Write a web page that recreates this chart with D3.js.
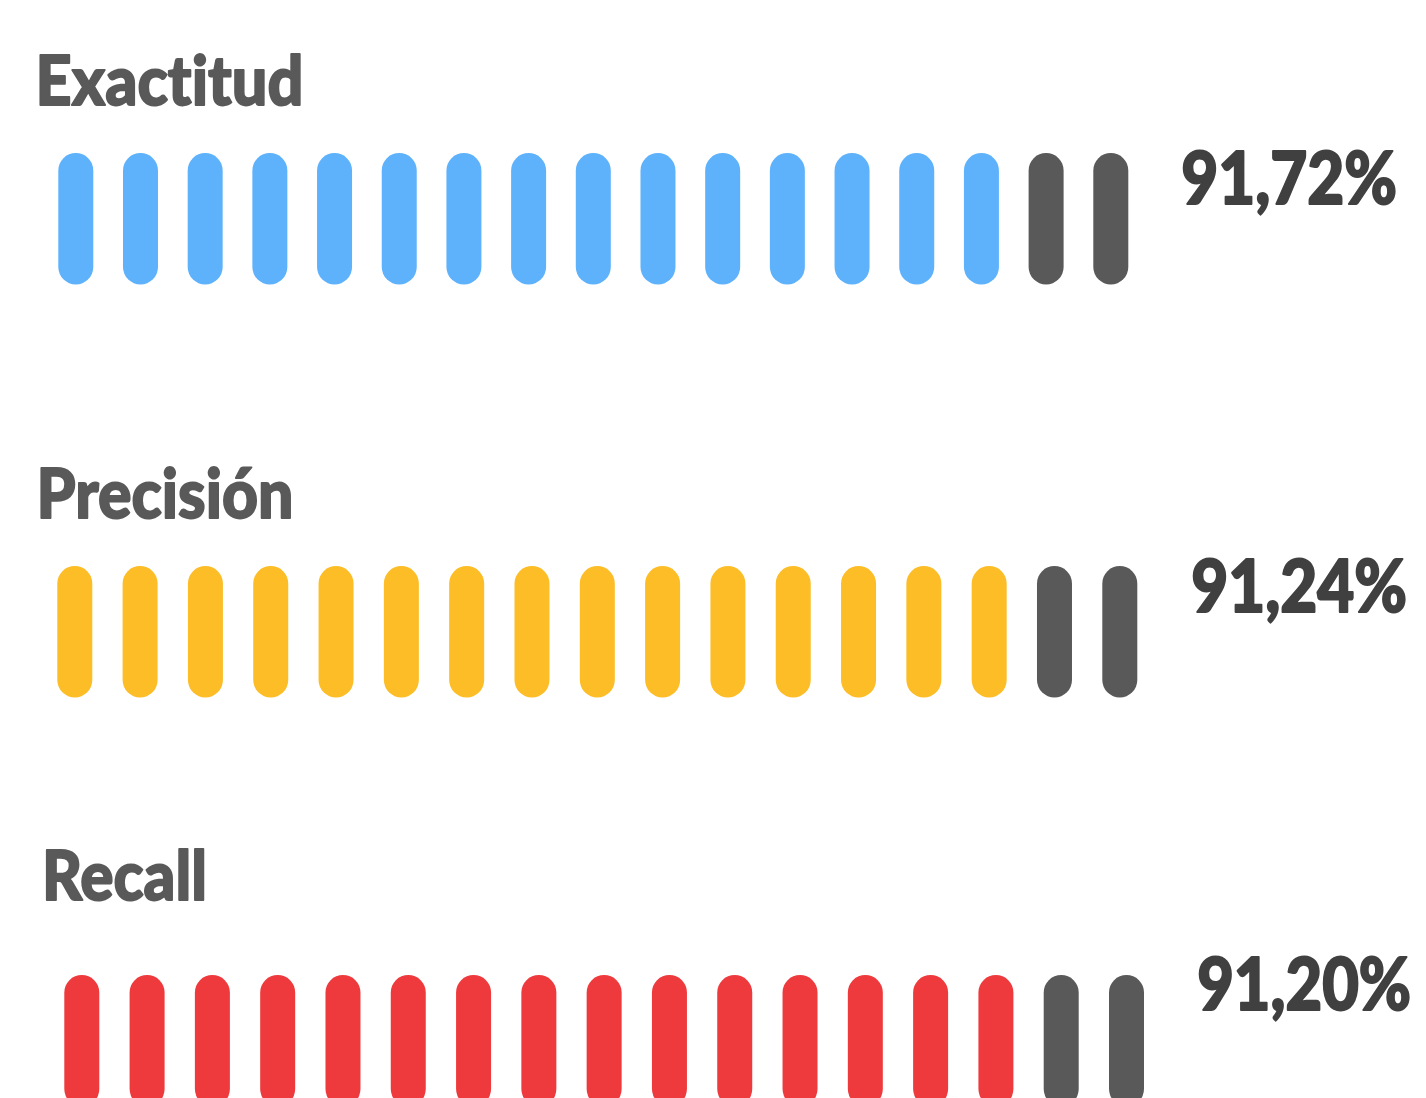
<!DOCTYPE html>
<html>
<head>
<meta charset="utf-8">
<script src="https://cdn.jsdelivr.net/npm/d3@7"></script>
<style>
  html, body { margin: 0; padding: 0; background: #ffffff; }
  svg { display: block; }
  text { font-family: Lato, "Open Sans", "Noto Sans", sans-serif; font-weight: 900; font-variant-ligatures: none; stroke-linejoin: round; }
</style>
</head>
<body>
<svg id="chart" width="1426" height="1098"></svg>
<script>
// ---- data ----
const categories = ["Exactitud", "Precisión", "Recall"];
const values = [91.72, 91.24, 91.20];
const valueLabels = ["91,72%", "91,24%", "91,20%"];
const totalSegments = [17, 17, 17];
const filledSegments = [15, 15, 15];
const seriesColors = ["#5EB2FC", "#FCBD27", "#EE3A3C"];

// ---- layout (not data) ----
const svg = d3.select("#chart");
const rows = [
  { x0: 75.8, x1: 1110.8, barTop: 153, labelX: 35.5, labelY: 104.5, labelW: 268, valX: 1181.2, valY: 203.5,  valW: 216 },
  { x0: 74.8, x1: 1119.8, barTop: 566, labelX: 36.5, labelY: 517.5, labelW: 257, valX: 1191.2, valY: 612.2,  valW: 216 },
  { x0: 81.8, x1: 1126.5, barTop: 975, labelX: 42,   labelY: 899.5, labelW: 165, valX: 1197.2, valY: 1010.2, valW: 214 }
];
const barW = 35, barH = 131.5;
const grey = "#595959";

function fitText(sel, x, y, w) {
  const natural = sel.node().getComputedTextLength();
  sel.attr("transform", `translate(${x},${y}) scale(${w / natural},1)`);
}

categories.forEach((cat, i) => {
  const r = rows[i];
  const n = totalSegments[i];
  const x = d3.scaleLinear().domain([0, n - 1]).range([r.x0, r.x1]);
  const y = d3.scaleLinear().domain([0, 1]).range([r.barTop, r.barTop + barH]);
  const segs = d3.range(n).map(k => ({ k, filled: k < filledSegments[i] }));
  const g = svg.append("g").attr("class", "row");

  g.selectAll("rect").data(segs).join("rect")
    .attr("x", d => x(d.k) - barW / 2)
    .attr("y", y(0))
    .attr("width", barW)
    .attr("height", y(1) - y(0))
    .attr("rx", barW / 2)
    .attr("ry", barW / 2)
    .attr("fill", d => d.filled ? seriesColors[i] : grey);

  const lab = g.append("text")
    .attr("font-size", 69)
    .attr("fill", "#595959")
    .attr("stroke", "#595959")
    .attr("stroke-width", 1.8)
    .text(cat);
  fitText(lab, r.labelX, r.labelY, r.labelW);

  const val = g.append("text")
    .attr("font-size", 72)
    .attr("fill", "#404040")
    .attr("stroke", "#404040")
    .attr("stroke-width", 2)
    .text(valueLabels[i]);
  fitText(val, r.valX, r.valY, r.valW);
});
</script>
</body>
</html>
